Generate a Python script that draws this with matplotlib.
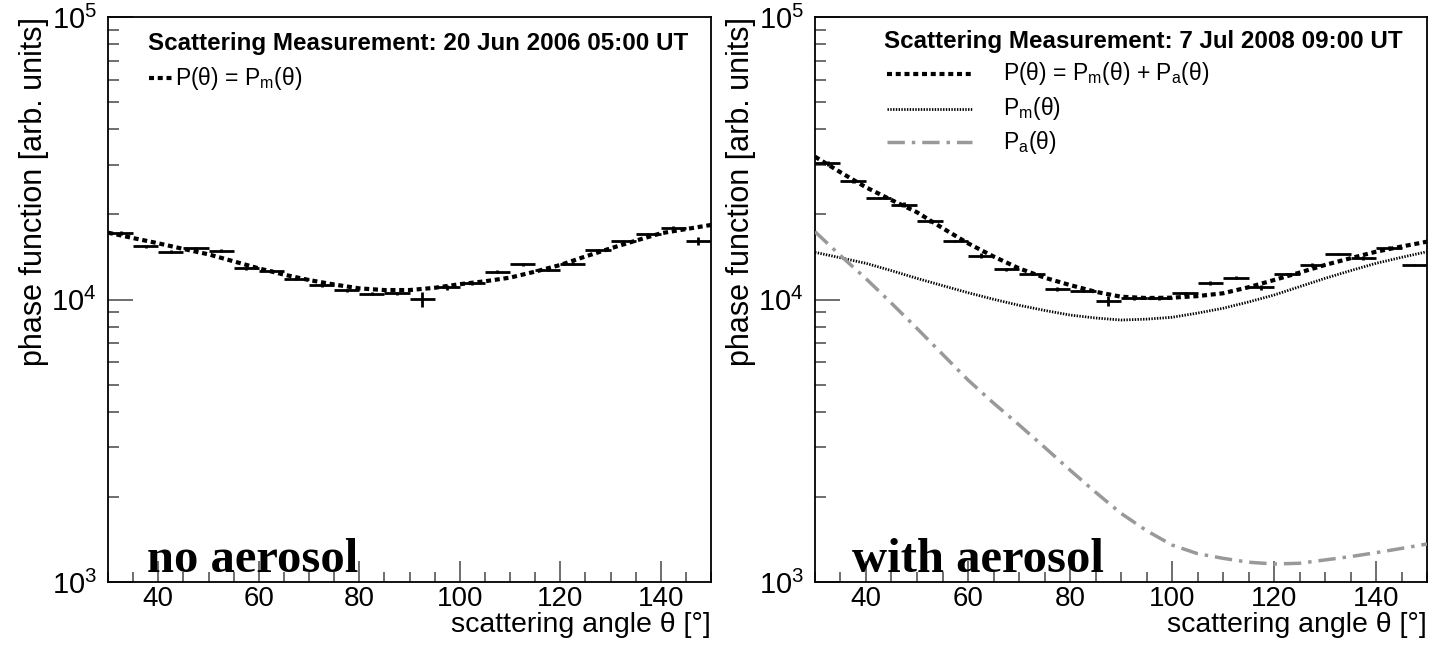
import numpy as np
import matplotlib
matplotlib.use("Agg")
import matplotlib.pyplot as plt
from matplotlib.ticker import MultipleLocator, LogLocator, LogFormatterSciNotation, NullFormatter

plt.rcParams["font.family"] = ["Liberation Sans", "DejaVu Sans"]
plt.rcParams["mathtext.fontset"] = "custom"
plt.rcParams["mathtext.rm"] = "Liberation Sans"
plt.rcParams["mathtext.it"] = "Liberation Sans:italic"

# bins of 5 degrees, 30..150
bin_lo = np.arange(30, 150, 5)
bin_c = bin_lo + 2.5

# 20 Jun 2006 (no aerosol)
meas_2006 = [17150, 15460, 14770, 15170, 14890, 12890, 12650, 11820, 11230, 10800,
             10480, 10520, 10020, 11050, 11410, 12550, 13330, 12720, 13360, 14970,
             16110, 17010, 17960, 16110]
err_2006 = [0.015, 0.012, 0.012, 0.012, 0.012, 0.012, 0.012, 0.012, 0.012, 0.012,
            0.012, 0.012, 0.058, 0.02, 0.012, 0.015, 0.012, 0.012, 0.012, 0.012,
            0.012, 0.012, 0.015, 0.033]

# 7 Jul 2008 (with aerosol)
meas_2008 = [30340, 26340, 22870, 21650, 19010, 16110, 14290, 12820, 12310, 10920,
             10720, 9900, 10100, 10100, 10520, 11470, 11950, 11050, 12310, 13250,
             14490, 14060, 15260, 13250]
err_2008 = [0.02, 0.015, 0.012, 0.02, 0.015, 0.012, 0.02, 0.012, 0.012, 0.015,
            0.012, 0.04, 0.015, 0.015, 0.012, 0.015, 0.012, 0.02, 0.012, 0.015,
            0.012, 0.015, 0.012, 0.012]

# fitted curves, read every 5 degrees
ang = np.arange(30, 151, 5)
fit_2006 = [17240, 16500, 15810, 15100, 14450, 13650, 12890, 12250, 11720, 11300,
            10950, 10800, 10800, 11000, 11330, 11600, 11950, 12550, 13250, 14200,
            15170, 16150, 17150, 17750, 18360]
tot_2008 = [32030, 28200, 24950, 22500, 20360, 17900, 15810, 14200, 12890, 11950,
            11250, 10650, 10230, 10120, 10150, 10280, 10520, 11050, 11720, 12450,
            13250, 14000, 14760, 15400, 16020]
pm_2008 = [14690, 14050, 13430, 12650, 11880, 11200, 10570, 10020, 9540, 9150,
           8810, 8600, 8460, 8520, 8650, 8950, 9310, 9800, 10370, 11100,
           11880, 12650, 13430, 14100, 14760]
pa_2008 = [17380, 14300, 11850, 9700, 7900, 6400, 5190, 4300, 3600, 3000,
           2490, 2080, 1750, 1520, 1352, 1260, 1213, 1175, 1158, 1165,
           1197, 1230, 1270, 1315, 1363]

fig = plt.figure(figsize=(14.41, 6.51), dpi=100)
ax1 = fig.add_axes([108 / 1441, 69 / 651, 603 / 1441, 565 / 651])
ax2 = fig.add_axes([815 / 1441, 69 / 651, 612 / 1441, 565 / 651])

sty_tot = dict(color="black", lw=3, linestyle=(0, (1.2, 0.9)))
sty_pm = dict(color="black", lw=2, linestyle=(0, (0.5, 0.5)))
sty_pa = dict(color="#999999", lw=2.5, linestyle=(0, (5, 2, 1, 2)))


def draw_points(ax, vals, errs):
    vals = np.array(vals)
    ax.errorbar(bin_c, vals, xerr=2.5, yerr=vals * np.array(errs), fmt="none",
                ecolor="black", elinewidth=2, capsize=0, zorder=3)


def style(ax):
    ax.set_yscale("log")
    ax.set_xlim(30, 150)
    ax.set_ylim(1e3, 1e5)
    ax.xaxis.set_major_locator(MultipleLocator(20))
    ax.xaxis.set_minor_locator(MultipleLocator(5))
    ax.yaxis.set_major_locator(LogLocator(base=10))
    ax.yaxis.set_minor_locator(LogLocator(base=10, subs=np.arange(2, 10)))
    ax.yaxis.set_major_formatter(LogFormatterSciNotation())
    ax.yaxis.set_minor_formatter(NullFormatter())
    ax.tick_params(which="both", direction="in", top=False, right=False,
                   labelsize=21, width=1.2, color="#555555")
    ax.tick_params(which="major", length=18, pad=8)
    ax.tick_params(axis="x", which="major", length=15, pad=3, labelsize=20)
    ax.tick_params(which="minor", length=8)
    ax.tick_params(axis="x", which="minor", length=7)
    for sp in ax.spines.values():
        sp.set_linewidth(1.3)
    ax.set_xlabel("scattering angle θ [°]", fontsize=20.5, loc="right", labelpad=0)
    ax.set_ylabel("phase function [arb. units]", fontsize=22, loc="top", labelpad=2)


# left panel
ax1.plot(ang, fit_2006, zorder=4, **sty_tot)
draw_points(ax1, meas_2006, err_2006)
style(ax1)
ax1.text(0.066, 0.953, "Scattering Measurement: 20 Jun 2006 05:00 UT",
         transform=ax1.transAxes, fontsize=17.4, fontweight="bold", va="center")
ax1.plot([0.068, 0.107], [0.892, 0.892], transform=ax1.transAxes, **sty_tot)
ax1.text(0.111, 0.892, "P(θ) = P$_\\mathrm{m}$(θ)", transform=ax1.transAxes,
         fontsize=16.5, va="center")
ax1.text(0.065, 0.018, "no aerosol", transform=ax1.transAxes, fontsize=35,
         fontweight="bold", family=["Liberation Serif", "DejaVu Serif"])

# right panel
ax2.plot(ang, tot_2008, zorder=4, **sty_tot)
ax2.plot(ang, pm_2008, zorder=4, **sty_pm)
ax2.plot(ang, pa_2008, zorder=4, **sty_pa)
draw_points(ax2, meas_2008, err_2008)
style(ax2)
ax2.text(0.113, 0.957, "Scattering Measurement: 7 Jul 2008 09:00 UT",
         transform=ax2.transAxes, fontsize=17.4, fontweight="bold", va="center")
leg_y = [0.90, 0.838, 0.778]
leg_txt = ["P(θ) = P$_\\mathrm{m}$(θ) + P$_\\mathrm{a}$(θ)", "P$_\\mathrm{m}$(θ)",
           "P$_\\mathrm{a}$(θ)"]
for yy, tt, st in zip(leg_y, leg_txt, [sty_tot, sty_pm, sty_pa]):
    ax2.plot([0.118, 0.257], [yy, yy], transform=ax2.transAxes, **st)
    ax2.text(0.307, yy, tt, transform=ax2.transAxes, fontsize=16.5, va="center")
ax2.text(0.06, 0.018, "with aerosol", transform=ax2.transAxes, fontsize=35,
         fontweight="bold", family=["Liberation Serif", "DejaVu Serif"])

fig.savefig("out.png", dpi=100)
